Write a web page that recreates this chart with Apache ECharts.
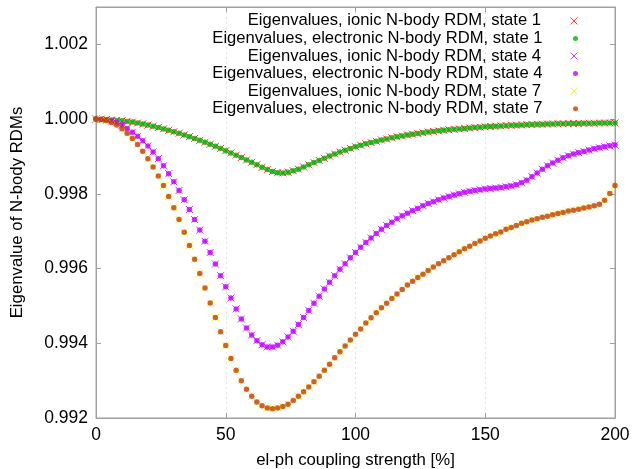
<!DOCTYPE html>
<html>
<head>
<meta charset="utf-8">
<script src="https://cdn.jsdelivr.net/npm/echarts@6/dist/echarts.min.js"></script>
<style>
  html, body { margin: 0; padding: 0; background: #fff; }
  #chart { width: 632px; height: 469px; }
</style>
</head>
<body>
<div id="chart"></div>
<script>
// coupling strength in %, one point every 2 %
const strength = [
  0, 2, 4, 6, 8, 10, 12, 14, 16, 18, 20, 22, 24, 26, 28, 30, 32, 34, 36, 38,
  40, 42, 44, 46, 48, 50, 52, 54, 56, 58, 60, 62, 64, 66, 68, 70, 72, 74, 76, 78,
  80, 82, 84, 86, 88, 90, 92, 94, 96, 98, 100, 102, 104, 106, 108, 110, 112, 114, 116, 118,
  120, 122, 124, 126, 128, 130, 132, 134, 136, 138, 140, 142, 144, 146, 148, 150, 152, 154, 156, 158,
  160, 162, 164, 166, 168, 170, 172, 174, 176, 178, 180, 182, 184, 186, 188, 190, 192, 194, 196, 198, 200
];

// ionic and electronic eigenvalues lie on top of each other in the picture
const state1 = [
  1.000000, 0.999995, 0.999985, 0.999975, 0.999965, 0.999955, 0.999938, 0.999920, 0.999895, 0.999868,
  0.999840, 0.999810, 0.999775, 0.999738, 0.999700, 0.999662, 0.999620, 0.999576, 0.999530, 0.999483,
  0.999432, 0.999380, 0.999326, 0.999270, 0.999214, 0.999155, 0.999095, 0.999034, 0.998972, 0.998908,
  0.998845, 0.998780, 0.998710, 0.998650, 0.998600, 0.998565, 0.998560, 0.998580, 0.998615, 0.998660,
  0.998720, 0.998775, 0.998835, 0.998895, 0.998950, 0.999010, 0.999065, 0.999118, 0.999168, 0.999215,
  0.999260, 0.999300, 0.999338, 0.999372, 0.999406, 0.999440, 0.999470, 0.999500, 0.999527, 0.999550,
  0.999575, 0.999595, 0.999615, 0.999634, 0.999652, 0.999670, 0.999685, 0.999700, 0.999712, 0.999725,
  0.999738, 0.999750, 0.999762, 0.999772, 0.999782, 0.999792, 0.999801, 0.999810, 0.999818, 0.999825,
  0.999832, 0.999838, 0.999844, 0.999849, 0.999854, 0.999859, 0.999863, 0.999867, 0.999871, 0.999874,
  0.999877, 0.999880, 0.999883, 0.999885, 0.999887, 0.999889, 0.999891, 0.999893, 0.999895, 0.999896,
  0.999897
];

const state4 = [
  1.000000, 0.999995, 0.999980, 0.999950, 0.999900, 0.999840, 0.999750, 0.999650, 0.999540, 0.999420,
  0.999280, 0.999120, 0.998940, 0.998750, 0.998540, 0.998320, 0.998090, 0.997840, 0.997580, 0.997310,
  0.997030, 0.996730, 0.996430, 0.996120, 0.995810, 0.995510, 0.995210, 0.994920, 0.994650, 0.994410,
  0.994220, 0.994070, 0.993960, 0.993900, 0.993900, 0.993950, 0.994040, 0.994170, 0.994320, 0.994500,
  0.994690, 0.994880, 0.995070, 0.995260, 0.995450, 0.995630, 0.995810, 0.995980, 0.996130, 0.996290,
  0.996430, 0.996570, 0.996700, 0.996820, 0.996940, 0.997050, 0.997150, 0.997240, 0.997330, 0.997410,
  0.997480, 0.997550, 0.997610, 0.997680, 0.997740, 0.997790, 0.997840, 0.997890, 0.997930, 0.997970,
  0.998000, 0.998040, 0.998070, 0.998090, 0.998110, 0.998130, 0.998140, 0.998155, 0.998170, 0.998190,
  0.998210, 0.998240, 0.998295, 0.998365, 0.998460, 0.998555, 0.998660, 0.998750, 0.998825, 0.998900,
  0.998965, 0.999018, 0.999063, 0.999100, 0.999135, 0.999170, 0.999205, 0.999232, 0.999259, 0.999285,
  0.999304
];

const state7 = [
  1.00000, 0.999985, 0.99996, 0.99991, 0.99984, 0.99974, 0.99962, 0.99948, 0.99932, 0.99914,
  0.99894, 0.99872, 0.99848, 0.99822, 0.99793, 0.99763, 0.99731, 0.99697, 0.99662, 0.99625,
  0.99587, 0.99548, 0.99508, 0.99469, 0.99431, 0.99394, 0.99359, 0.99328, 0.99300, 0.99277,
  0.99258, 0.99243, 0.99233, 0.99227, 0.99225, 0.99227, 0.99231, 0.99237, 0.99247, 0.99258,
  0.99270, 0.99283, 0.99297, 0.99312, 0.99328, 0.99344, 0.99361, 0.99377, 0.99393, 0.99409,
  0.99424, 0.99438, 0.99454, 0.99468, 0.99482, 0.99495, 0.99507, 0.99520, 0.99532, 0.99544,
  0.99556, 0.99566, 0.99576, 0.99585, 0.99595, 0.99604, 0.99613, 0.99621, 0.99629, 0.99637,
  0.99645, 0.99653, 0.99660, 0.99667, 0.99674, 0.99681, 0.99687, 0.99693, 0.99698, 0.99705,
  0.99710, 0.99715, 0.99721, 0.99725, 0.99730, 0.99733, 0.99737, 0.99740, 0.99744, 0.99747,
  0.99750, 0.99754, 0.99756, 0.99759, 0.99762, 0.99765, 0.99768, 0.99772, 0.99783, 0.99801,
  0.99822
];

const yTicks = [0.992, 0.994, 0.996, 0.998, 1.000, 1.002];

const font = 'Liberation Sans, Arial, sans-serif';
const grey = '#a0a0a0';
const cross = 'path://M0 0L10 10M10 0L0 10';

const pairs = vals => strength.map((x, i) => [x, vals[i]]);

const ionic = [
  { name: 'Eigenvalues, ionic N-body RDM, state 1', data: state1, color: '#ff0000' },
  { name: 'Eigenvalues, ionic N-body RDM, state 4', data: state4, color: '#c000ff' },
  { name: 'Eigenvalues, ionic N-body RDM, state 7', data: state7, color: '#e8e800' }
];
const electronic = [
  { name: 'Eigenvalues, electronic N-body RDM, state 1', data: state1, color: '#00b000' },
  { name: 'Eigenvalues, electronic N-body RDM, state 4', data: state4, color: '#c000ff' },
  { name: 'Eigenvalues, electronic N-body RDM, state 7', data: state7, color: '#c04000' }
];

const series = [];
for (let k = 0; k < 3; k++) {
  series.push({
    name: ionic[k].name,
    type: 'scatter',
    data: pairs(ionic[k].data),
    symbol: cross,
    symbolSize: 7,
    symbolKeepAspect: true,
    itemStyle: { color: ionic[k].color, borderColor: ionic[k].color, borderWidth: 1 },
    emphasis: { disabled: true },
    silent: true
  });
  series.push({
    name: electronic[k].name,
    type: 'scatter',
    data: pairs(electronic[k].data),
    symbol: 'circle',
    symbolSize: 5.5,
    itemStyle: { color: electronic[k].color },
    emphasis: { disabled: true },
    silent: true
  });
}

const legendBase = {
  orient: 'vertical',
  align: 'right',
  right: 54,
  padding: 0,
  itemWidth: 56,
  itemGap: 18.1,
  selectedMode: false,
  textStyle: { color: '#000', fontSize: 16.6, fontFamily: font }
};

const yBase = {
  type: 'value',
  min: 0.992,
  max: 1.003,
  interval: 0.002,
  splitLine: { show: false },
  axisLine: { show: true, onZero: false, lineStyle: { color: grey } },
  axisTick: { show: true, inside: true, length: 5, lineStyle: { color: grey } }
};

const xBase = {
  type: 'value',
  min: 0,
  max: 200,
  interval: 50,
  axisLine: { show: true, onZero: false, lineStyle: { color: grey } },
  axisTick: { show: true, inside: true, length: 5, lineStyle: { color: grey } }
};

const chart = echarts.init(document.getElementById('chart'), null, { renderer: 'canvas' });
chart.setOption({
  animation: false,
  backgroundColor: '#fff',
  grid: {
    left: 96, right: 17, top: 7, bottom: 51,
    show: true, borderColor: grey, borderWidth: 1,
    outerBoundsMode: 'none'
  },
  legend: [
    Object.assign({}, legendBase, {
      data: ionic.map(s => s.name),
      top: 12.4,
      itemHeight: 7,
      itemStyle: { borderWidth: 1 }
    }),
    Object.assign({}, legendBase, {
      data: electronic.map(s => s.name),
      top: 30,
      itemHeight: 5,
      itemStyle: { borderWidth: 0 }
    })
  ],
  xAxis: [
    Object.assign({}, xBase, {
      position: 'bottom',
      name: 'el-ph coupling strength [%]',
      nameLocation: 'middle',
      nameGap: 34,
      nameTextStyle: { color: '#000', fontSize: 16.8, fontFamily: font },
      axisLabel: { color: '#000', fontSize: 17.5, fontFamily: font, margin: 8 },
      splitLine: { show: true, lineStyle: { color: '#e4e4e4', width: 1, type: [2, 3] } }
    }),
    Object.assign({}, xBase, {
      position: 'top',
      axisLabel: { show: false },
      splitLine: { show: false }
    })
  ],
  yAxis: [
    Object.assign({}, yBase, {
      position: 'left',
      name: 'Eigenvalue of N-body RDMs',
      nameLocation: 'middle',
      nameGap: 70,
      nameRotate: 90,
      nameTextStyle: { color: '#000', fontSize: 16.8, fontFamily: font },
      axisLabel: {
        color: '#000', fontSize: 17.5, fontFamily: font, margin: 8,
        formatter: v => yTicks.some(t => Math.abs(t - v) < 1e-9) ? v.toFixed(3) : ''
      }
    }),
    Object.assign({}, yBase, {
      position: 'right',
      axisLabel: { show: false }
    })
  ],
  series: series
});
</script>
</body>
</html>
